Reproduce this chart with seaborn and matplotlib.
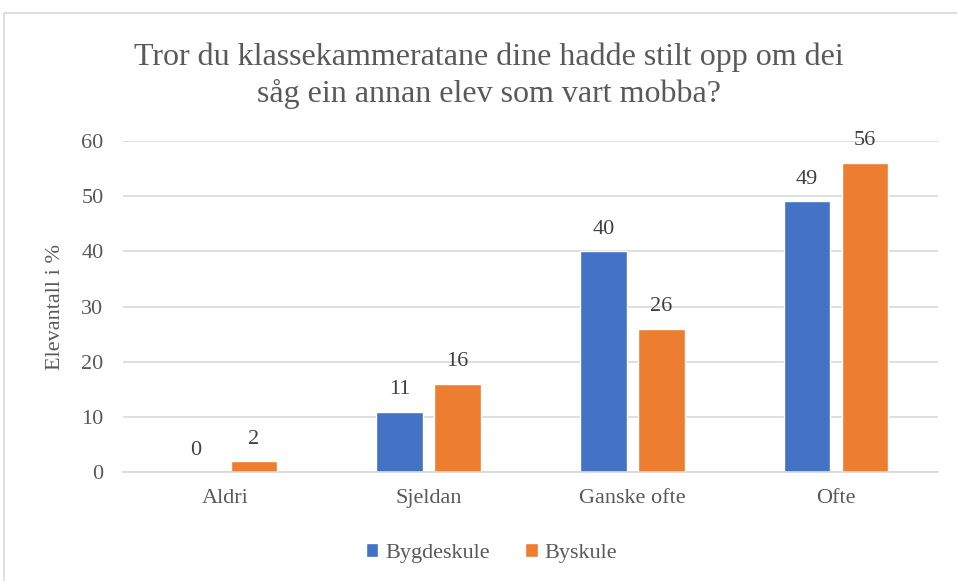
import pandas as pd
import numpy as np
import matplotlib
matplotlib.use('Agg')
import matplotlib.pyplot as plt
import seaborn as sns
from matplotlib.patches import Rectangle

categories = ['Aldri', 'Sjeldan', 'Ganske ofte', 'Ofte']
bygdeskule = [0, 11, 40, 49]
byskule = [2, 16, 26, 56]
series = ['Bygdeskule', 'Byskule']
colors = ['#4472C4', '#ED7D31']

data = pd.DataFrame({
    'kategori': categories * 2,
    'verdi': bygdeskule + byskule,
    'skule': [series[0]] * len(categories) + [series[1]] * len(categories),
})

sns.set_style('white')
plt.rcParams['font.family'] = ['Liberation Serif', 'DejaVu Serif']
txt = '#595959'

fig = plt.figure(figsize=(9.57, 5.81), dpi=100)
ax = fig.add_axes([123 / 957, 1 - 472.3 / 581, 815 / 957, 331.6 / 581])

sns.barplot(data=data, x='kategori', y='verdi', hue='skule', palette=colors,
            width=0.57, gap=0.2, saturation=1, ax=ax, legend=True)

for c in ax.containers:
    ax.bar_label(c, fmt='%d', padding=9, fontsize=16, color='#404040')

ax.set_ylim(0, 60)
ax.set_yticks(range(0, 61, 10))
ax.yaxis.grid(True, color='#D9D9D9', lw=1.2)
ax.set_axisbelow(True)
for s in ['top', 'right', 'left']:
    ax.spines[s].set_visible(False)
ax.spines['bottom'].set_color('#D9D9D9')
ax.spines['bottom'].set_linewidth(1.2)
ax.tick_params(axis='both', length=0, labelsize=16, labelcolor=txt)
ax.tick_params(axis='y', pad=14)
ax.tick_params(axis='x', pad=12)
ax.set_xlabel('')
ax.set_ylabel('Elevantall i %', fontsize=16, color=txt, labelpad=12)

ax.legend(loc='center', bbox_to_anchor=(0.5136, 1 - 553 / 581), bbox_transform=fig.transFigure,
          ncol=2, frameon=False, fontsize=16, labelcolor=txt, handlelength=0.55, handleheight=0.55,
          handletextpad=0.3, columnspacing=1.6)

fig.text(0.511, 1 - 76 / 581, 'Tror du klassekammeratane dine hadde stilt opp om dei\nsåg ein annan elev som vart mobba?',
         ha='center', va='center', fontsize=23, color=txt, linespacing=1.3)

fig.patches.append(Rectangle((4 / 957, -0.05), 1.1, 1 - 13 / 581 + 0.05,
                             transform=fig.transFigure, fill=False,
                             edgecolor='#D9D9D9', lw=1.2))

fig.savefig('out.png', dpi=100)
